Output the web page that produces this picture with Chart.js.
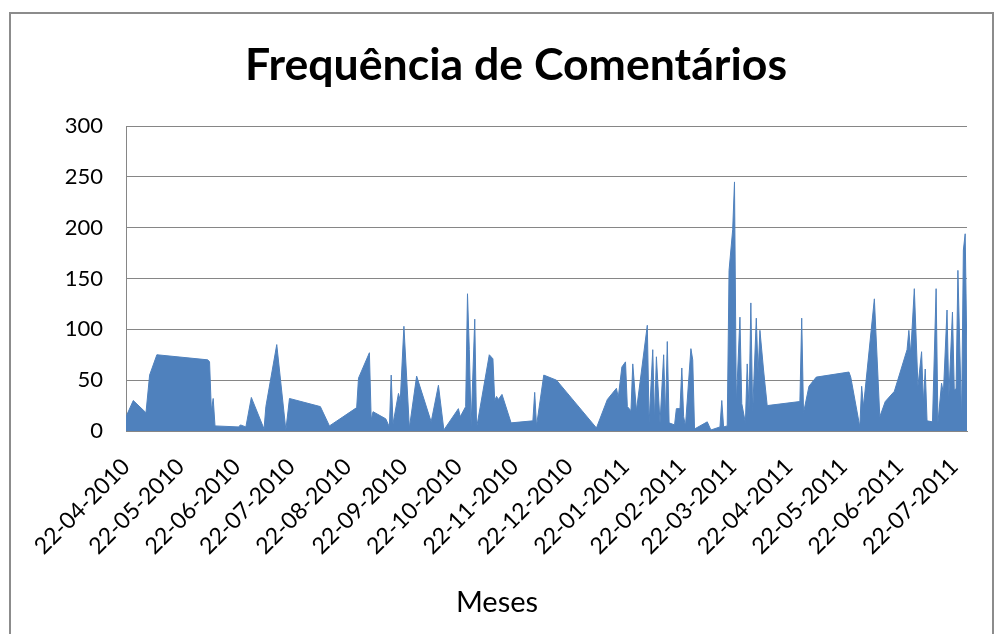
<!DOCTYPE html>
<html>
<head>
<meta charset="utf-8">
<script src="https://cdn.jsdelivr.net/npm/chart.js@4.4.1/dist/chart.umd.min.js"></script>
<style>
  html, body { margin: 0; padding: 0; background: #fff; }
  #wrap { position: relative; width: 1004px; height: 634px; overflow: hidden; }
  #moldura { position: absolute; left: 9px; top: 12px; width: 981px; height: 640px;
             border: 2px solid #8c8c8c; pointer-events: none; }
</style>
</head>
<body>
<div id="wrap">
  <canvas id="grafico" width="1004" height="634"></canvas>
  <div id="moldura"></div>
</div>
<script>
// dias contados a partir de 22-04-2010
const dias = [0, 4, 11, 13, 17, 45, 46, 47, 48, 49, 62, 63, 66, 69, 76, 77, 83, 88, 90, 107,
  112, 127, 128, 134, 135, 136, 143, 145, 146, 147, 150, 151, 153, 156, 160, 168, 172, 175, 183, 184,
  187, 188, 189, 190, 192, 193, 200, 202, 203, 204, 205, 207, 212, 224, 225, 226, 230, 237, 259, 265,
  270, 271, 273, 275, 276, 278, 279, 281, 287, 288, 290, 291, 292, 294, 296, 297, 298, 299, 302, 303,
  305, 306, 307, 308, 311, 312, 313, 320, 322, 327, 328, 329, 331, 332, 334, 335, 336, 338, 339, 341,
  342, 343, 344, 345, 347, 348, 349, 351, 353, 371, 372, 373, 376, 380, 398, 399, 404, 405, 406, 412,
  415, 418, 423, 430, 431, 432, 434, 436, 438, 439, 440, 441, 444, 446, 447, 449, 450, 452, 453, 455,
  456, 457, 458, 460, 461, 462, 463];

const comentarios = [14, 30, 18, 55, 75, 70, 68, 20, 32, 5, 4, 6, 4, 33, 2, 24, 85, 1, 32, 24,
  5, 23, 52, 77, 11, 19, 12, 4, 55, 7, 37, 30, 103, 3, 54, 9, 45, 1, 22, 14,
  24, 135, 80, 5, 110, 3, 75, 71, 30, 34, 31, 36, 8, 10, 38, 5, 55, 50, 3, 31,
  42, 33, 63, 68, 24, 20, 66, 20, 104, 8, 80, 11, 73, 8, 75, 14, 88, 8, 6, 22,
  22, 62, 14, 5, 81, 70, 2, 9, 1, 4, 30, 4, 5, 158, 198, 245, 27, 112, 27, 8,
  66, 21, 126, 18, 111, 57, 99, 60, 25, 29, 111, 18, 44, 53, 58, 53, 4, 44, 24, 130,
  14, 29, 39, 80, 99, 76, 140, 44, 78, 28, 61, 10, 9, 140, 8, 47, 37, 119, 34, 117,
  40, 42, 158, 11, 178, 194, 68];

const rotulos = ['22-04-2010', '22-05-2010', '22-06-2010', '22-07-2010', '22-08-2010',
  '22-09-2010', '22-10-2010', '22-11-2010', '22-12-2010', '22-01-2011', '22-02-2011',
  '22-03-2011', '22-04-2011', '22-05-2011', '22-06-2011', '22-07-2011'];

const ultimoDia = 463;

function diaDe(rotulo) {
  const [d, m, a] = rotulo.split('-').map(Number);
  return Math.round((Date.UTC(a, m - 1, d) - Date.UTC(2010, 3, 22)) / 86400000);
}

const fonte = 'Lato, "Open Sans", sans-serif';
const cinza = '#868686';

// titulo do eixo x desenhado a mao, o Excel nao o centra sobre o eixo
const tituloEixoX = {
  id: 'tituloEixoX',
  afterDraw(chart) {
    const c = chart.ctx;
    c.save();
    c.font = '29px ' + fonte;
    c.fillStyle = '#000';
    c.textAlign = 'center';
    c.textBaseline = 'middle';
    c.fillText('Meses', 497, 603);
    c.restore();
  }
};

const ctx = document.getElementById('grafico').getContext('2d');
new Chart(ctx, {
  type: 'line',
  data: {
    datasets: [{
      label: 'Comentários',
      data: dias.map((d, i) => ({x: d, y: comentarios[i]})),
      borderColor: '#4F81BD',
      backgroundColor: '#4F81BD',
      borderWidth: 1,
      fill: 'origin',
      pointRadius: 0,
      tension: 0
    }]
  },
  plugins: [tituloEixoX],
  options: {
    responsive: false,
    animation: false,
    devicePixelRatio: 1,
    layout: {
      padding: {left: 65, right: 37, top: 0, bottom: 0}
    },
    plugins: {
      legend: {display: false},
      tooltip: {enabled: false},
      title: {
        display: true,
        text: 'Frequência de Comentários',
        color: '#000',
        font: {family: fonte, size: 44.6, weight: 'bold'},
        padding: {top: 38.7, bottom: 33.8}
      }
    },
    scales: {
      x: {
        type: 'linear',
        min: 0,
        max: ultimoDia,
        afterBuildTicks: function(scale) {
          scale.ticks = rotulos.map(r => ({value: diaDe(r)}));
        },
        afterFit: function(scale) {
          scale.height = 203;
        },
        grid: {display: false, drawTicks: false},
        border: {display: true, color: cinza, width: 1},
        ticks: {
          autoSkip: false,
          maxRotation: 45,
          minRotation: 45,
          padding: 22,
          color: '#000',
          font: {family: fonte, size: 23},
          callback: function(value, index) {
            return rotulos[index];
          }
        }
      },
      y: {
        min: 0,
        max: 300,
        afterFit: function(scale) {
          scale.width = 61;
        },
        grid: {color: cinza, lineWidth: 1, drawTicks: false},
        border: {display: true, color: cinza, width: 1},
        ticks: {
          stepSize: 50,
          padding: 23,
          color: '#000',
          font: {family: fonte, size: 22}
        }
      }
    }
  }
});
</script>
</body>
</html>
